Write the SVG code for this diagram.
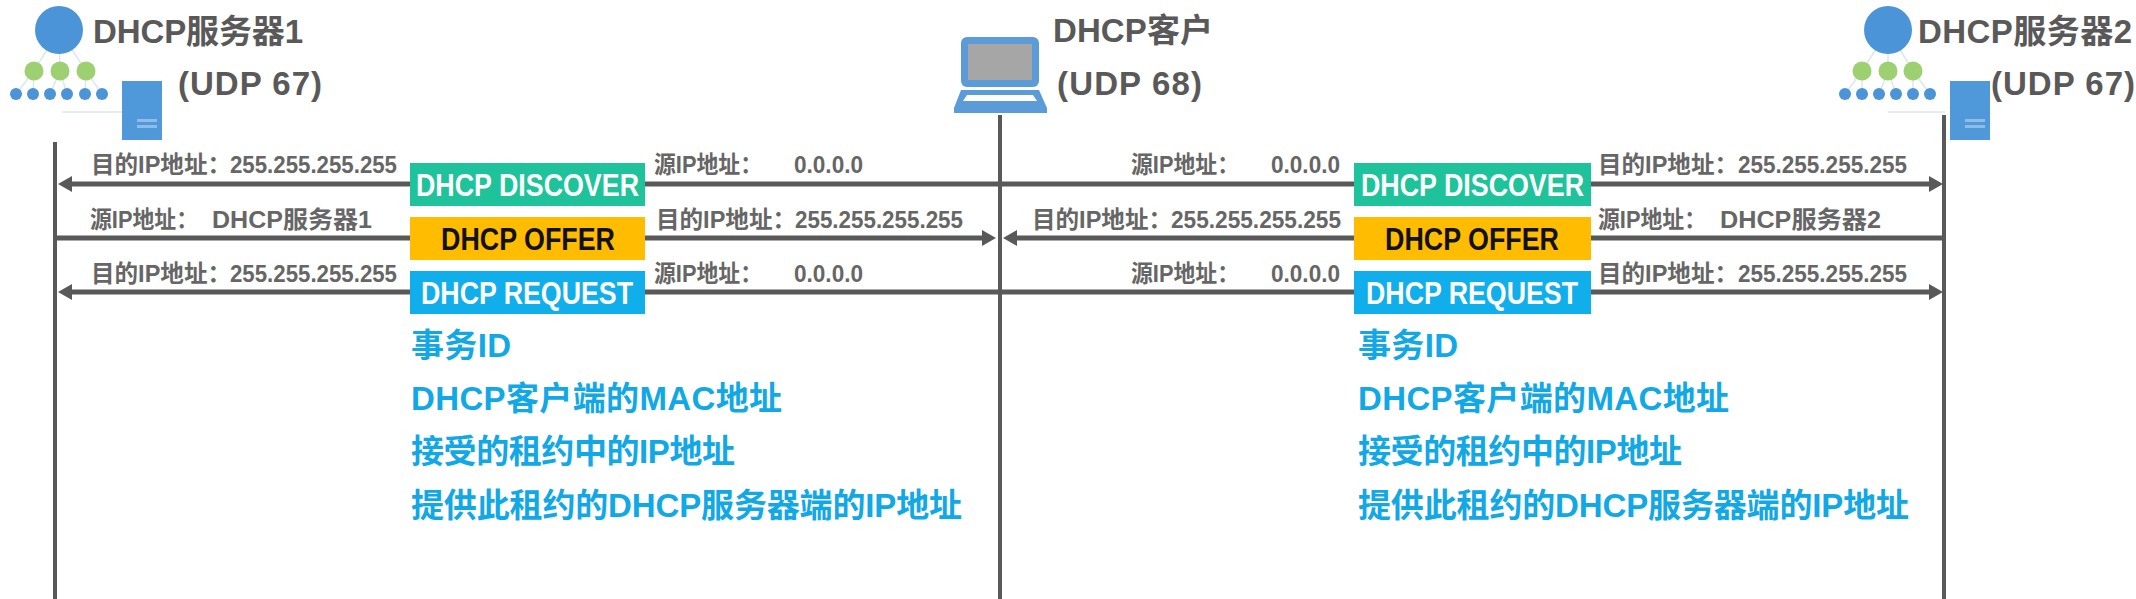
<svg xmlns="http://www.w3.org/2000/svg" width="2136" height="599" viewBox="0 0 2136 599">
<style>
text{font-family:"Liberation Sans","Noto Sans CJK SC",sans-serif}
.h{font-size:33px;font-weight:700;fill:#595959}
.l{font-size:24px;font-weight:700;fill:#666}
.b{font-size:32px;font-weight:700;fill:#fff}
.d{font-size:33px;font-weight:700;fill:#12a8e6}
.life{stroke:#595959;stroke-width:4;fill:none}
.msg{stroke:#595959;stroke-width:5;fill:none}
.arrow{marker-end:url(#ah)}
.top{fill:#4c94d8}
.mid{fill:#9cd070}
.low{fill:#4c94d8}
.srv{fill:#4f98da}
.faint{stroke:#dfe6ee;stroke-width:1.5;fill:none}
.slot{fill:#8fbde6}
</style>
<defs>
<marker id="ah" markerUnits="userSpaceOnUse" markerWidth="16" markerHeight="18" refX="4" refY="9" orient="auto">
<path d="M0 1L14 9L0 17Z" fill="#595959"/>
</marker>
</defs>
<rect width="2136" height="599" fill="#fff"/>
<g id="connectors">
<path class="life" d="M55 142V599"/>
<path class="life" d="M1000 115V599"/>
<path class="life" d="M1944 115V599"/>
<path class="msg arrow" d="M410 184H68"/>
<path class="msg" d="M645 184H1354"/>
<path class="msg arrow" d="M1591 184H1933"/>
<path class="msg" d="M55 238H410"/>
<path class="msg arrow" d="M645 238H986"/>
<path class="msg arrow" d="M1354 238H1013"/>
<path class="msg" d="M1591 238H1944"/>
<path class="msg arrow" d="M410 292H68"/>
<path class="msg" d="M645 292H1354"/>
<path class="msg arrow" d="M1591 292H1933"/>
</g>
<g id="server1">
<path class="faint" d="M59 30L34 71M59 30L60 71M59 30L86 71M34 71L16 94M34 71L33 94M60 71L50 94M60 71L67 94M86 71L85 94M86 71L102 94M62 112H122"/>
<circle class="top" cx="59" cy="30" r="24"/>
<circle class="mid" cx="34" cy="71" r="9.5"/><circle class="mid" cx="60" cy="71" r="9.5"/><circle class="mid" cx="86" cy="71" r="9.5"/>
<circle class="low" cx="16" cy="94" r="6"/><circle class="low" cx="33" cy="94" r="6"/><circle class="low" cx="50" cy="94" r="6"/><circle class="low" cx="67" cy="94" r="6"/><circle class="low" cx="85" cy="94" r="6"/><circle class="low" cx="102" cy="94" r="6"/>
<rect class="srv" x="122" y="81" width="40" height="59"/>
<rect class="slot" x="137" y="119" width="20" height="3"/><rect class="slot" x="137" y="125" width="20" height="3"/>
<text class="h" x="93" y="43" textLength="210">DHCP服务器1</text>
<text class="h" x="178" y="95" textLength="144">(UDP 67)</text>
</g>
<g id="client">
<rect x="961" y="37" width="78" height="50" rx="6" fill="#5b9bd8"/>
<rect x="968" y="44" width="64" height="36" fill="#a6a6a6"/>
<path d="M961 90H1039L1047 108V113H954V108Z" fill="#5b9bd8"/>
<path d="M967 95H1033L1037 101H963Z" fill="#fff"/>
<text class="h" x="1053" y="42" textLength="160">DHCP客户</text>
<text class="h" x="1057" y="95" textLength="145">(UDP 68)</text>
</g>
<g id="server2">
<path class="faint" d="M1888 30L1862 71M1888 30V71M1888 30L1913 71M1862 71L1845 94M1862 71V94M1888 71L1879 94M1888 71L1896 94M1913 71V94M1913 71L1930 94M1888 112H1945"/>
<circle class="top" cx="1888" cy="30" r="24"/>
<circle class="mid" cx="1862" cy="71" r="9.5"/><circle class="mid" cx="1888" cy="71" r="9.5"/><circle class="mid" cx="1913" cy="71" r="9.5"/>
<circle class="low" cx="1845" cy="94" r="6"/><circle class="low" cx="1862" cy="94" r="6"/><circle class="low" cx="1879" cy="94" r="6"/><circle class="low" cx="1896" cy="94" r="6"/><circle class="low" cx="1913" cy="94" r="6"/><circle class="low" cx="1930" cy="94" r="6"/>
<rect class="srv" x="1950" y="81" width="40" height="59"/>
<rect class="slot" x="1965" y="119" width="20" height="3"/><rect class="slot" x="1965" y="125" width="20" height="3"/>
<text class="h" x="1918" y="43" textLength="214">DHCP服务器2</text>
<text class="h" x="1991" y="95" textLength="144">(UDP 67)</text>
</g>
<g id="labels-left">
<text class="l" x="91" y="173" textLength="140" lengthAdjust="spacingAndGlyphs">目的IP地址：</text>
<text class="l" x="230" y="173" textLength="167" lengthAdjust="spacingAndGlyphs">255.255.255.255</text>
<text class="l" x="90" y="228" textLength="108" lengthAdjust="spacingAndGlyphs">源IP地址：</text>
<text class="l" x="212" y="228" textLength="160" lengthAdjust="spacingAndGlyphs">DHCP服务器1</text>
<text class="l" x="91" y="282" textLength="140" lengthAdjust="spacingAndGlyphs">目的IP地址：</text>
<text class="l" x="230" y="282" textLength="167" lengthAdjust="spacingAndGlyphs">255.255.255.255</text>
<text class="l" x="654" y="173" textLength="108" lengthAdjust="spacingAndGlyphs">源IP地址：</text>
<text class="l" x="794" y="173" textLength="69" lengthAdjust="spacingAndGlyphs">0.0.0.0</text>
<text class="l" x="656" y="228" textLength="140" lengthAdjust="spacingAndGlyphs">目的IP地址：</text>
<text class="l" x="795" y="228" textLength="168" lengthAdjust="spacingAndGlyphs">255.255.255.255</text>
<text class="l" x="654" y="282" textLength="108" lengthAdjust="spacingAndGlyphs">源IP地址：</text>
<text class="l" x="794" y="282" textLength="69" lengthAdjust="spacingAndGlyphs">0.0.0.0</text>
</g>
<g id="labels-right">
<text class="l" x="1131" y="173" textLength="108" lengthAdjust="spacingAndGlyphs">源IP地址：</text>
<text class="l" x="1271" y="173" textLength="69" lengthAdjust="spacingAndGlyphs">0.0.0.0</text>
<text class="l" x="1032" y="228" textLength="140" lengthAdjust="spacingAndGlyphs">目的IP地址：</text>
<text class="l" x="1171" y="228" textLength="170" lengthAdjust="spacingAndGlyphs">255.255.255.255</text>
<text class="l" x="1131" y="282" textLength="108" lengthAdjust="spacingAndGlyphs">源IP地址：</text>
<text class="l" x="1271" y="282" textLength="69" lengthAdjust="spacingAndGlyphs">0.0.0.0</text>
<text class="l" x="1598" y="173" textLength="140" lengthAdjust="spacingAndGlyphs">目的IP地址：</text>
<text class="l" x="1738" y="173" textLength="169" lengthAdjust="spacingAndGlyphs">255.255.255.255</text>
<text class="l" x="1598" y="228" textLength="108" lengthAdjust="spacingAndGlyphs">源IP地址：</text>
<text class="l" x="1720" y="228" textLength="161" lengthAdjust="spacingAndGlyphs">DHCP服务器2</text>
<text class="l" x="1598" y="282" textLength="140" lengthAdjust="spacingAndGlyphs">目的IP地址：</text>
<text class="l" x="1738" y="282" textLength="169" lengthAdjust="spacingAndGlyphs">255.255.255.255</text>
</g>
<g id="discover1"><rect x="410" y="163" width="235" height="43" fill="#1fc39b"/><text class="b" x="416" y="196" textLength="223" lengthAdjust="spacingAndGlyphs">DHCP DISCOVER</text></g>
<g id="offer1"><rect x="410" y="217" width="235" height="43" fill="#ffbc00"/><text class="b" x="441" y="250" textLength="174" lengthAdjust="spacingAndGlyphs" style="fill:#111">DHCP OFFER</text></g>
<g id="request1"><rect x="410" y="271" width="235" height="43" fill="#10aeeb"/><text class="b" x="421" y="304" textLength="212" lengthAdjust="spacingAndGlyphs">DHCP REQUEST</text></g>
<g id="discover2"><rect x="1354" y="163" width="237" height="43" fill="#1fc39b"/><text class="b" x="1361" y="196" textLength="223" lengthAdjust="spacingAndGlyphs">DHCP DISCOVER</text></g>
<g id="offer2"><rect x="1354" y="217" width="237" height="43" fill="#ffbc00"/><text class="b" x="1385" y="250" textLength="174" lengthAdjust="spacingAndGlyphs" style="fill:#111">DHCP OFFER</text></g>
<g id="request2"><rect x="1354" y="271" width="237" height="43" fill="#10aeeb"/><text class="b" x="1366" y="304" textLength="212" lengthAdjust="spacingAndGlyphs">DHCP REQUEST</text></g>
<g id="details1">
<text class="d" x="411" y="357" textLength="100">事务ID</text>
<text class="d" x="411" y="410" textLength="371">DHCP客户端的MAC地址</text>
<text class="d" x="411" y="463" textLength="324">接受的租约中的IP地址</text>
<text class="d" x="411" y="517" textLength="551">提供此租约的DHCP服务器端的IP地址</text>
</g>
<g id="details2">
<text class="d" x="1358" y="357" textLength="100">事务ID</text>
<text class="d" x="1358" y="410" textLength="371">DHCP客户端的MAC地址</text>
<text class="d" x="1358" y="463" textLength="324">接受的租约中的IP地址</text>
<text class="d" x="1358" y="517" textLength="551">提供此租约的DHCP服务器端的IP地址</text>
</g>
</svg>
